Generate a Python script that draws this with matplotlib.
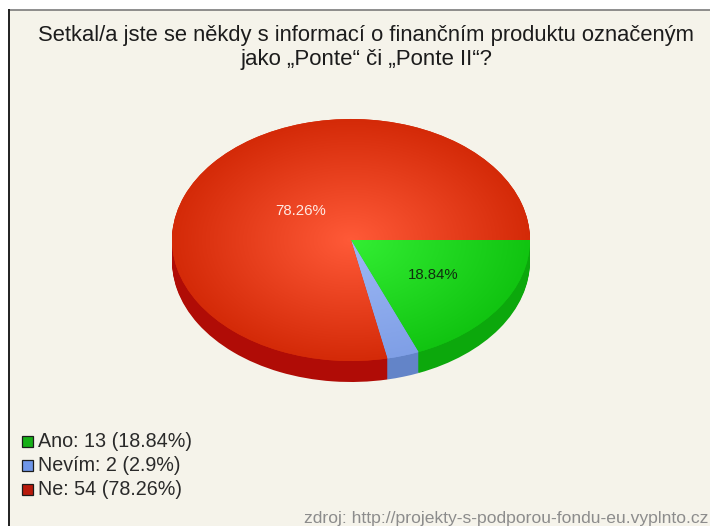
import numpy as np
import matplotlib
matplotlib.use("Agg")
import matplotlib.pyplot as plt
from matplotlib.colors import LinearSegmentedColormap
from matplotlib.lines import Line2D
from matplotlib.patches import Rectangle

TITLE = "Setkal/a jste se někdy s informací o finančním produktu označeným\njako „Ponte“ či „Ponte II“?"
SOURCE = "zdroj: http://projekty-s-podporou-fondu-eu.vyplnto.cz"
categories = ["Ano", "Nevím", "Ne"]
counts = [13, 2, 54]
shares = [18.84, 2.9, 78.26]
top_inner = ["#33ee33", "#9db8f5", "#ff5a38"]
top_outer = ["#11c411", "#7f9fe6", "#d42a08"]
side_colors = ["#0ca80c", "#6384c8", "#b00c06"]
swatch_colors = ["#17b017", "#6f96e8", "#b81a0c"]

W, H = 710, 526
BG = "#f5f3ea"
CX, CY, RX, RY, DEPTH = 351, 240, 179, 121, 21

fig = plt.figure(figsize=(W / 100, H / 100), dpi=100, facecolor="white")
plt.rcParams["font.family"] = ["Liberation Sans", "DejaVu Sans"]

# Pixel-addressed canvas for the frame, legend and footer
page = fig.add_axes([0, 0, 1, 1])
page.set_xlim(0, W)
page.set_ylim(H, 0)
page.axis("off")
page.add_patch(Rectangle((9, 10), W, H, fc=BG, ec="none"))
page.add_line(Line2D([9, W], [10, 10], color="#707070", lw=1.1))
page.add_line(Line2D([9, 9], [10, H], color="#202020", lw=1.4))

title_lines = TITLE.split("\n")
page.text(366, 36, title_lines[0], ha="center", va="center", fontsize=15.8, color="#1c1c1c")
page.text(367, 60, title_lines[1], ha="center", va="center", fontsize=16, color="#1c1c1c")

# Pie axes spanning the ellipse's bounding box; auto aspect flattens the circle
pie_ax = fig.add_axes([(CX - RX) / W, 1 - (CY + RY + DEPTH) / H, 2 * RX / W, (2 * RY + DEPTH) / H])

# Extruded rim: the pie repeated downwards in the darker shades
for step in np.arange(DEPTH, 0, -1):
    pie_ax.pie(shares, colors=side_colors, startangle=0, counterclock=False, radius=1,
               center=(0, -step / RY), frame=True, wedgeprops={"lw": 0.6, "edgecolor": None})

# Top face: each slice filled with a radial gradient clipped to its wedge
wedges, _ = pie_ax.pie(shares, colors=top_outer, startangle=0, counterclock=False, radius=1,
                       frame=True, wedgeprops={"lw": 0})
xx, yy = np.meshgrid(np.linspace(-1, 1, 400), np.linspace(-1, 1, 400))
dist = np.clip(np.hypot(xx, yy), 0, 1)
for wedge, inner, outer in zip(wedges, top_inner, top_outer):
    cmap = LinearSegmentedColormap.from_list("slice", [inner, outer])
    img = pie_ax.imshow(dist, cmap=cmap, vmin=0, vmax=1, extent=(-1, 1, -1, 1),
                        origin="lower", aspect="auto", interpolation="bilinear", zorder=3)
    img.set_clip_path(wedge)
pie_ax.set_xlim(-1, 1)
pie_ax.set_ylim(-1 - DEPTH / RY, 1)
pie_ax.set_aspect("auto")
pie_ax.axis("off")

# Percent labels sit on the figure so they are drawn above the pie axes
fig.text(433, 275, f"{shares[0]}%", transform=page.transData, ha="center", va="center",
         fontsize=10.8, color="#10300f")
fig.text(301, 211, f"{shares[2]}%", transform=page.transData, ha="center", va="center",
         fontsize=10.8, color="#ffe9e2")

# Legend
for row, (name, count, share, swatch) in enumerate(zip(categories, counts, shares, swatch_colors)):
    y = 441.5 + row * 24
    page.add_patch(Rectangle((22, y - 6), 11, 11, fc=swatch, ec="#1c1c1c", lw=0.9))
    page.text(38, y, f"{name}: {count} ({share:g}%)", ha="left", va="center", fontsize=14.2, color="#2a2a2a")

page.text(708, 518, SOURCE, ha="right", va="center", fontsize=12.6, color="#8c8c8c")

fig.savefig("out.png", dpi=100, facecolor="white")
